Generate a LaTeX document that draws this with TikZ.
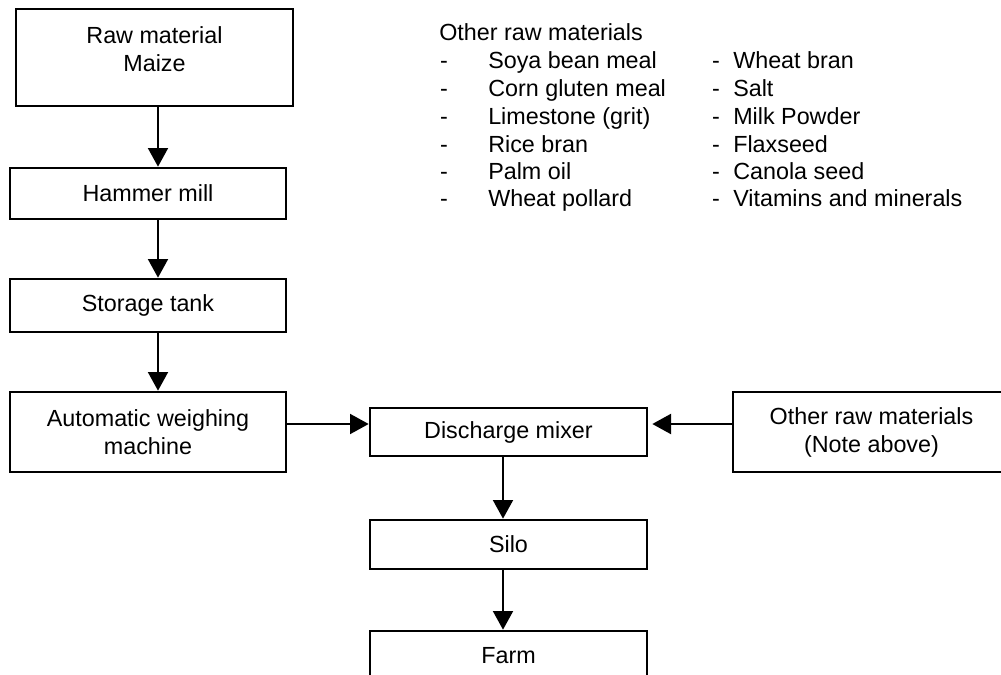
\documentclass[tikz,border=0pt]{standalone}
\usepackage{fontspec}
\setmainfont{Liberation Sans}
\usetikzlibrary{arrows.meta}
\begin{document}
\begin{tikzpicture}[x=0.75pt,y=-0.75pt,
  box/.style={draw, line width=2pt, inner sep=0pt, align=center, font=\fontsize{17.5}{21}\selectfont},
  txt/.style={inner sep=0pt, align=center, font=\fontsize{17.5}{21}\selectfont},
  lst/.style={inner sep=0pt, anchor=base west, font=\fontsize{17.5}{21}\selectfont},
  dsh/.style={inner sep=0pt, anchor=base, font=\fontsize{17.5}{21}\selectfont},
  arr/.style={line width=1.5pt, -{Triangle[width=15pt,length=14pt]}}
]
\useasboundingbox (0,0) rectangle (1001,675);
\clip (0,0) rectangle (1001,675);

% boxes
\node[box, minimum width=277*0.75pt, minimum height=97*0.75pt] (raw) at (154.5,57.5) {};
\node[txt] (rawtxt) at (154.5,49) {Raw material\\Maize};
\node[box, minimum width=276*0.75pt, minimum height=51*0.75pt] (ham) at (148,193.5) {Hammer mill};
\node[box, minimum width=276*0.75pt, minimum height=53*0.75pt] (sto) at (148,305.5) {Storage tank};
\node[box, minimum width=276*0.75pt, minimum height=80*0.75pt] (auto) at (148,432) {Automatic weighing\\machine};
\node[box, minimum width=277*0.75pt, minimum height=48*0.75pt] (mix) at (508.5,432) {Discharge mixer};
\node[box, minimum width=277*0.75pt, minimum height=80*0.75pt] (oth) at (871.5,432) {Other raw materials\\(Note above)};
\node[box, minimum width=277*0.75pt, minimum height=49*0.75pt] (silo) at (508.5,544.5) {Silo};
\node[box, minimum width=277*0.75pt, minimum height=50*0.75pt] (farm) at (508.5,656) {Farm};

% helper coordinates
\coordinate (cA) at (158,0);
\coordinate (cB) at (503,0);
\coordinate (rM) at (0,424);

% connectors
\draw[arr] (raw.south -| cA) -- (ham.north -| cA);
\draw[arr] (ham.south -| cA) -- (sto.north -| cA);
\draw[arr] (sto.south -| cA) -- (auto.north -| cA);
\draw[arr] (auto.east |- rM) -- (mix.west |- rM);
\draw[arr, shorten >=3pt] (oth.west |- rM) -- (mix.east |- rM);
\draw[arr] (mix.south -| cB) -- (silo.north -| cB);
\draw[arr] (silo.south -| cB) -- (farm.north -| cB);

% note list
\node[lst] (hdr) at (439,40) {Other raw materials};
\foreach \y/\a/\b [count=\i] in {68/Soya bean meal/Wheat bran,
  96/Corn gluten meal/Salt,
  124/Limestone (grit)/Milk Powder,
  152/Rice bran/Flaxseed,
  179/Palm oil/Canola seed,
  206/Wheat pollard/Vitamins and minerals} {
  \node[dsh] (dl\i) at (444,\y) {-};
  \node[lst] (il\i) at (488,\y) {\a};
  \node[dsh] (dr\i) at (716,\y) {-};
  \node[lst] (ir\i) at (733,\y) {\b};
}
\end{tikzpicture}
\end{document}
